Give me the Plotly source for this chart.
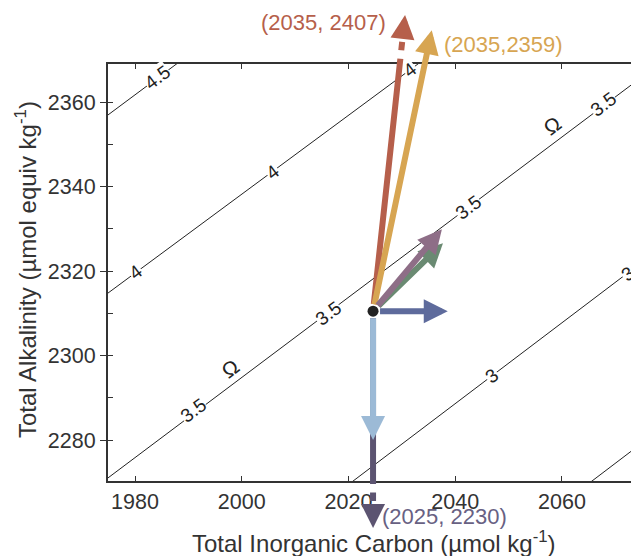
import math
import plotly.graph_objects as go

# ---------------- data ----------------
dic_range = [1974.94, 2072.93]
ta_range = [2270.3, 2369.0]
x_ticks = [1980, 2000, 2020, 2040, 2060]
y_ticks = [2280, 2300, 2320, 2340, 2360]

# Omega (aragonite saturation) isolines: two points read on each line (DIC, TA)
omega_levels = [4.5, 4.0, 3.5, 3.0, 2.5]
omega_x0 = [1965.0, 1965.0, 1965.0, 2010.0, 2055.0]
omega_y0 = [2347.6, 2305.5, 2261.6, 2259.9, 2260.1]
omega_x1 = [2000.0, 2045.0, 2080.0, 2080.0, 2080.0]
omega_y1 = [2380.5, 2380.2, 2370.7, 2326.9, 2284.1]

# inline contour labels
clabel_text = ["4.5", "4", "4", "4", "3.5", "3.5", "3.5", "3.5", "3", "3"]
clabel_x = [1984.12, 2031.52, 2005.67, 1980.0, 1990.87, 2016.16, 2042.39, 2067.68, 2046.88, 2072.36]
clabel_y = [2365.92, 2367.81, 2343.43, 2319.76, 2287.10, 2310.06, 2335.15, 2359.53, 2295.38, 2319.53]

# Omega symbols next to the 3.5 isoline
omega_sym_x = [1997.80, 2058.13]
omega_sym_y = [2297.04, 2354.56]

# starting state
origin_dic = 2024.6
origin_ta = 2310.5

# arrow end points (DIC, TA) as drawn
arrow_names = ["dark", "red", "yellow", "green", "mauve", "blue", "lightblue"]
arrow_dic = [2024.6, 2030.6, 2035.6, 2037.7, 2037.5, 2038.6, 2024.6]
arrow_ta = [2259.2, 2380.6, 2377.0, 2326.6, 2329.9, 2310.5, 2280.0]
arrow_offscale = [True, True, False, False, False, False, False]

# end labels
end_label_text = ["(2025, 2230)", "(2035, 2407)", "(2035,2359)"]
end_label_arrow = ["dark", "red", "yellow"]

# ---------------- styles ----------------
arrow_colors = {
    "dark": "#5c5471",
    "red": "#b65f4b",
    "yellow": "#d7a552",
    "green": "#6a8a72",
    "mauve": "#8e6e87",
    "blue": "#5e6b9c",
    "lightblue": "#9cbad6",
}
label_colors = {"dark": "#686183", "red": "#b65f4b", "yellow": "#d7a552"}
FONT = "Liberation Sans, Arial, sans-serif"
TXT = "#333333"

W, H = 631, 556
ml, mr, mt, mb = 108, 0, 64, 75
pw, ph = W - ml - mr, H - mt - mb
sx = pw / (dic_range[1] - dic_range[0])
sy = ph / (ta_range[1] - ta_range[0])

AW = 6.0          # shaft width
HEAD = 24.0       # head length in px (arrowhead 2 is 5 units long)
ASZ = HEAD / (5 * AW)
R_DOT = 5.5


def to_paper(x, y):
    return ((x - dic_range[0]) / (dic_range[1] - dic_range[0]),
            (y - ta_range[0]) / (ta_range[1] - ta_range[0]))


fig = go.Figure()

# isolines
for lv, x0, y0, x1, y1 in zip(omega_levels, omega_x0, omega_y0, omega_x1, omega_y1):
    fig.add_trace(go.Scatter(x=[x0, x1], y=[y0, y1], mode="lines",
                             line=dict(color="#222222", width=1),
                             hoverinfo="skip", showlegend=False, name=str(lv)))

# starting point
fig.add_trace(go.Scatter(x=[origin_dic], y=[origin_ta], mode="markers",
                         marker=dict(color="#222222", size=2 * R_DOT),
                         hoverinfo="skip", showlegend=False))

# contour labels
for t, x, y in zip(clabel_text, clabel_x, clabel_y):
    fig.add_annotation(x=x, y=y, xref="x", yref="y", text=t, showarrow=False,
                       textangle=-37, bgcolor="white", borderpad=0,
                       font=dict(family=FONT, size=19, color="#222222"))
for x, y in zip(omega_sym_x, omega_sym_y):
    fig.add_annotation(x=x, y=y, xref="x", yref="y", text="Ω", showarrow=False,
                       textangle=-37, font=dict(family=FONT, size=21, color="#222222"))


def seg(x0, y0, x1, y1, color, head, start_off=0.0):
    """arrow piece from (x0,y0) to (x1,y1) in data units; drawn in paper
    coords so that pieces outside the axes are still shown"""
    px1, py1 = to_paper(x1, y1)
    fig.add_annotation(x=px1, y=py1, xref="paper", yref="paper",
                       ax=(x0 - x1) * sx, ay=-(y0 - y1) * sy,
                       axref="pixel", ayref="pixel", text="", showarrow=True,
                       arrowhead=2 if head else 0, arrowsize=ASZ,
                       arrowwidth=AW, arrowcolor=color,
                       standoff=0, startstandoff=start_off)


def back(x0, y0, x1, y1, d):
    """point d pixels back from (x1, y1) along the arrow"""
    L = math.hypot((x1 - x0) * sx, (y1 - y0) * sy)
    t = 1 - d / L
    return x0 + t * (x1 - x0), y0 + t * (y1 - y0)


order = ["dark", "lightblue", "red", "yellow", "green", "mauve", "blue"]
for name in order:
    i = arrow_names.index(name)
    x1, y1 = arrow_dic[i], arrow_ta[i]
    c = arrow_colors[name]
    if arrow_offscale[i]:
        sxe, sye = back(origin_dic, origin_ta, x1, y1, 44)
        seg(origin_dic, origin_ta, sxe, sye, c, False, R_DOT)
        d0 = back(origin_dic, origin_ta, x1, y1, 37)
        d1 = back(origin_dic, origin_ta, x1, y1, 27)
        seg(d0[0], d0[1], d1[0], d1[1], c, False)
        h0 = back(origin_dic, origin_ta, x1, y1, HEAD)
        seg(h0[0], h0[1], x1, y1, c, True)
    else:
        seg(origin_dic, origin_ta, x1, y1, c, True, R_DOT)

# end labels (positions in data units, drawn in paper coords)
end_label_pos = {
    "red": (2027.4, 2378.9, "right"),
    "yellow": (2037.5, 2373.5, "left"),
    "dark": (2025.9, 2261.9, "left"),
}
for t, name in zip(end_label_text, end_label_arrow):
    x, y, anc = end_label_pos[name]
    px, py = to_paper(x, y)
    fig.add_annotation(x=px, y=py, xref="paper", yref="paper", text=t, showarrow=False,
                       xanchor=anc, yanchor="middle",
                       font=dict(family=FONT, size=22, color=label_colors[name]))

# axis titles
fig.add_annotation(x=(374 - ml) / pw, y=(H - mb - 542) / ph, xref="paper", yref="paper",
                   text="Total Inorganic Carbon (µmol kg<sup>-1</sup>)", showarrow=False,
                   xanchor="center", yanchor="middle",
                   font=dict(family=FONT, size=24, color=TXT))
fig.add_annotation(x=(26 - ml) / pw, y=(H - mb - 270) / ph, xref="paper", yref="paper",
                   text="Total Alkalinity (µmol equiv kg<sup>-1</sup>)", showarrow=False,
                   textangle=-90, xanchor="center", yanchor="middle",
                   font=dict(family=FONT, size=24, color=TXT))

fig.update_layout(
    width=W, height=H,
    margin=dict(l=ml, r=mr, t=mt, b=mb, pad=0),
    paper_bgcolor="white", plot_bgcolor="white",
    showlegend=False,
    font=dict(family=FONT, color=TXT),
    xaxis=dict(range=dic_range, tickvals=x_ticks, ticks="inside", ticklen=5,
               tickwidth=1.2, tickcolor="#333333", showline=True, linewidth=2,
               linecolor="#333333", mirror="ticks", showgrid=False, zeroline=False,
               tickfont=dict(family=FONT, size=21.5, color=TXT)),
    yaxis=dict(range=ta_range, tickvals=y_ticks, ticks="outside", ticklen=6,
               tickwidth=1.2, tickcolor="#333333", showline=True, linewidth=2,
               linecolor="#333333", showgrid=False, zeroline=False,
               minor=dict(dtick=10, tick0=2270, ticks="inside", ticklen=5,
                          tickwidth=1.2, tickcolor="#333333", showgrid=False),
               tickfont=dict(family=FONT, size=21.5, color=TXT)),
)

fig.write_html("out.html")
